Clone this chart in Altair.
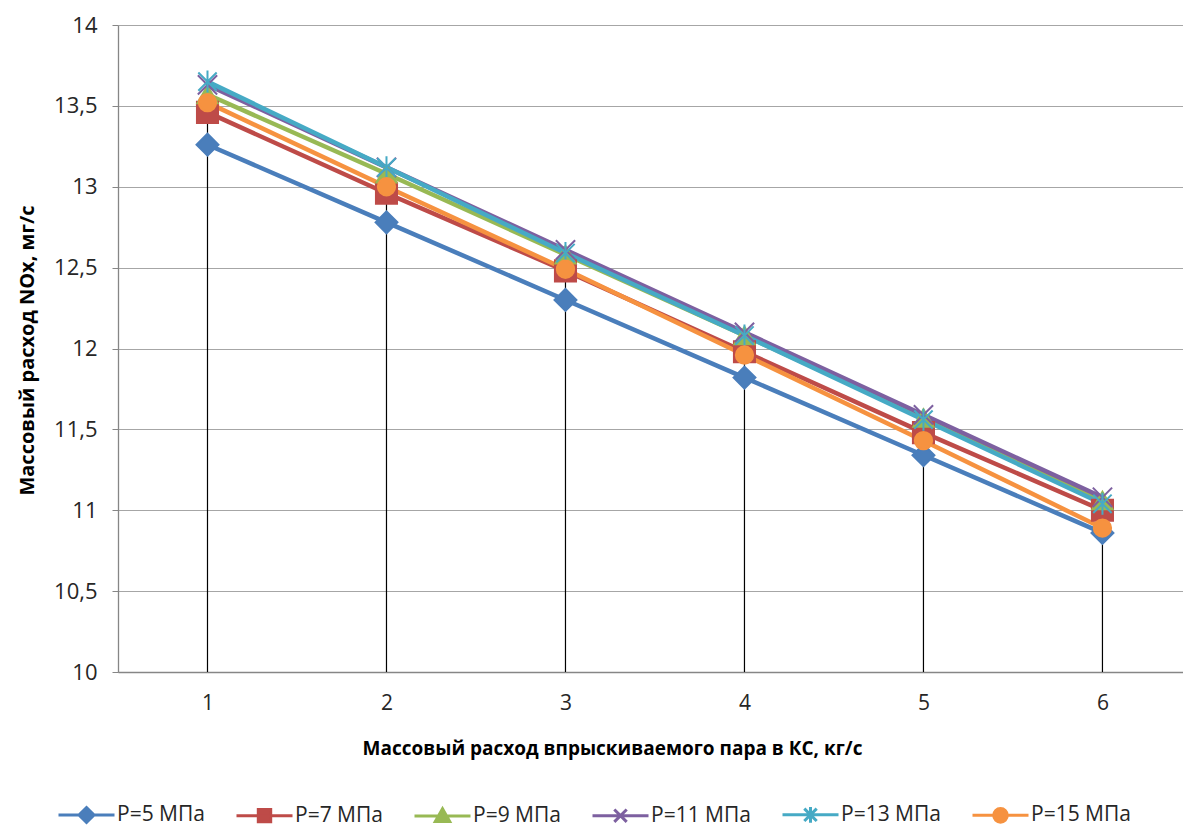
import altair as alt
import pandas as pd

# ---- data ----
x_vals = [1, 2, 3, 4, 5, 6]
series_names = ["P=5 МПа", "P=7 МПа", "P=9 МПа", "P=11 МПа", "P=13 МПа", "P=15 МПа"]
p5 = [13.26, 12.78, 12.30, 11.82, 11.34, 10.86]
p7 = [13.46, 12.96, 12.48, 11.98, 11.48, 11.00]
p9 = [13.57, 13.08, 12.58, 12.08, 11.57, 11.06]
p11 = [13.63, 13.12, 12.61, 12.10, 11.59, 11.08]
p13 = [13.65, 13.12, 12.59, 12.08, 11.56, 11.04]
p15 = [13.52, 13.00, 12.49, 11.96, 11.43, 10.89]
y_ticks = [10, 10.5, 11, 11.5, 12, 12.5, 13, 13.5, 14]

colors = ["#4A7EBB", "#BE4B48", "#98B954", "#7D60A0", "#46AAC5", "#F69240"]

X_PATH = "M-1,-1L1,1M-1,1L1,-1"
AST_PATH = "M-1,-1L1,1M-1,1L1,-1M0,-1.2L0,1.2"
marker_shapes = ["diamond", "square", "triangle-up", X_PATH, AST_PATH, "circle"]
marker_sizes = [480, 300, 360, 440, 460, 400]

LINE = "M-2.8,0L2.8,0"
legend_paths = [
    LINE + "M0,-0.75L0.75,0L0,0.75L-0.75,0Z",
    LINE + "M-0.62,-0.62L0.62,-0.62L0.62,0.62L-0.62,0.62Z",
    LINE + "M0,-0.72L0.72,0.56L-0.72,0.56Z",
    LINE + "M-0.62,-0.62L0.62,0.62M-0.62,0.62L0.62,-0.62",
    LINE + "M-0.62,-0.62L0.62,0.62M-0.62,0.62L0.62,-0.62M0,-0.78L0,0.78",
    LINE + "M-0.68,0A0.68,0.68,0,1,0,0.68,0A0.68,0.68,0,1,0,-0.68,0Z",
]

rows = []
for k, (name, vals) in enumerate(zip(series_names, [p5, p7, p9, p11, p13, p15])):
    for xv, v in zip(x_vals, vals):
        rows.append({"x": xv, "value": v, "series": name, "order": k})
df = pd.DataFrame(rows)

FONT = "Open Sans"

def cscale():
    return alt.Scale(domain=series_names, range=colors)

x_enc = alt.X(
    "x:Q",
    scale=alt.Scale(domain=[0.5, 6.45], nice=False, zero=False),
    axis=alt.Axis(
        values=x_vals, ticks=False, grid=False, labelFont=FONT, labelFontSize=21,
        labelColor="#262626", labelPadding=20, domainColor="#868686", domainWidth=1.3,
        title="Массовый расход впрыскиваемого пара в КС, кг/с", titleFont=FONT,
        titleFontSize=19, titleFontWeight="bold", titleColor="#000000",
        titleX=494, titleY=76, titleBaseline="middle", titleAnchor="middle",
        labelFlush=False,
    ),
)
y_enc = alt.Y(
    "value:Q",
    scale=alt.Scale(domain=[10, 14], nice=False, zero=False),
    axis=alt.Axis(
        values=y_ticks, grid=True, gridColor="#A6A6A6", gridWidth=1.2,
        tickColor="#868686", tickSize=6, domainColor="#868686", domainWidth=1.3,
        labelFont=FONT, labelFontSize=22, labelColor="#262626", labelPadding=15,
        labelExpr="replace(format(datum.value, '~g'), '.', ',')",
        title="Массовый расход NOx, мг/с", titleFont=FONT, titleFontSize=20,
        titleFontWeight="bold", titleColor="#000000", titleX=-91, titleY=325,
        titleAngle=-90, titleBaseline="middle", titleAnchor="middle",
    ),
)

legend = alt.Legend(
    title=None, orient="none", legendX=-61, legendY=778, direction="horizontal",
    columns=6, symbolSize=400, symbolOffset=18, labelOffset=19,
    labelFont=FONT, labelFontSize=21, labelColor="#262626", columnPadding=25,
    symbolStrokeWidth=3, symbolOpacity=1,
)

base = alt.Chart(df)

drops = base.transform_aggregate(
    top="max(value)", groupby=["x"]
).mark_rule(color="#000000", strokeWidth=1.2).encode(
    x=x_enc, y=alt.Y("top:Q"), y2=alt.datum(10)
)

lines = base.mark_line(strokeWidth=4.5).encode(
    x=x_enc, y=y_enc,
    color=alt.Color("series:N", scale=cscale(), legend=None),
    order=alt.Order("x:Q"),
)

points = base.mark_point(strokeWidth=2, opacity=1).encode(
    x=x_enc, y=y_enc,
    fill=alt.Fill("series:N", scale=cscale(), legend=None),
    stroke=alt.Stroke("series:N", scale=cscale(), legend=None),
    shape=alt.Shape("series:N", scale=alt.Scale(domain=series_names, range=marker_shapes), legend=None),
    size=alt.Size("series:N", scale=alt.Scale(domain=series_names, range=marker_sizes), legend=None),
    order=alt.Order("order:Q"),
)

legend_layer = base.mark_point(strokeWidth=3, opacity=0).encode(
    x=x_enc, y=y_enc,
    fill=alt.Fill("series:N", scale=cscale(), legend=legend),
    stroke=alt.Stroke("series:N", scale=cscale(), legend=legend),
    shape=alt.Shape("series:N", scale=alt.Scale(domain=series_names, range=legend_paths), legend=legend),
)

chart = alt.layer(drops, lines, points, legend_layer).resolve_scale(
    shape="independent", fill="independent", stroke="independent", size="independent"
).properties(
    width=1065, height=647,
    autosize=alt.AutoSizeParams(type="none"),
    padding={"left": 118, "top": 25, "right": 0, "bottom": 158},
    background="#FFFFFF",
).configure_view(stroke=None)

chart.save("out.html", embed_options={"renderer": "svg", "actions": False})
